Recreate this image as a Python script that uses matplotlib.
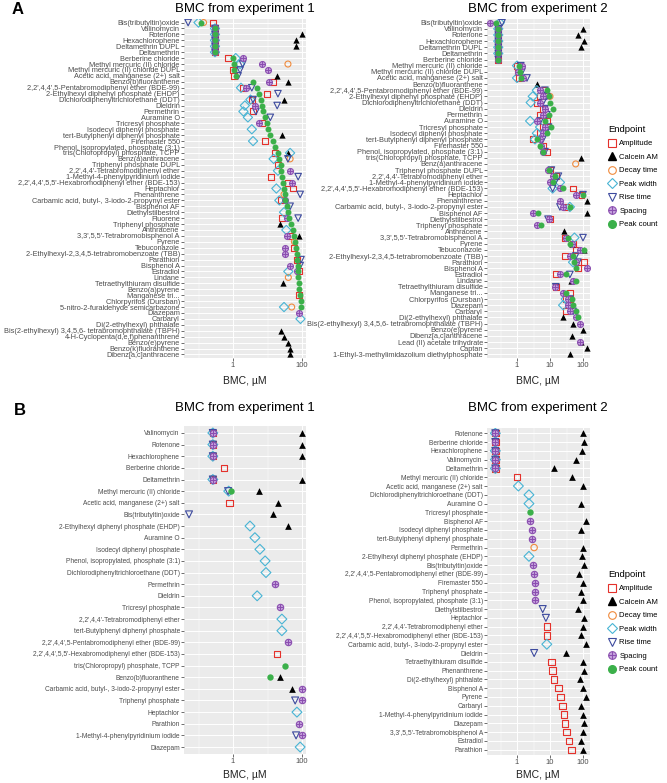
import numpy as np
import matplotlib
matplotlib.use('Agg')
import matplotlib.pyplot as plt
from matplotlib.lines import Line2D
from matplotlib.ticker import NullFormatter

nan = np.nan
plt.rcParams['font.family'] = ['Liberation Sans', 'DejaVu Sans']

# ---------------- Panel A, experiment 1 ----------------
a1_chem = ["Bis(tributyltin)oxide", "Valinomycin", "Rotenone", "Hexachlorophene", "Deltamethrin DUPL",
           "Deltamethrin", "Berberine chloride", "Methyl mercuric (II) chloride",
           "Methyl mercuric (II) chloride DUPL", "Acetic acid, manganese (2+) salt",
           "Benzo(b)fluoranthene", "2,2',4,4',5-Pentabromodiphenyl ether (BDE-99)",
           "2-Ethylhexyl diphenyl phosphate (EHDP)", "Dichlorodiphenyltrichlorethane (DDT)", "Dieldrin",
           "Permethrin", "Auramine O", "Tricresyl phosphate", "Isodecyl diphenyl phosphate",
           "tert-Butylphenyl diphenyl phosphate", "Firemaster 550", "Phenol, isopropylated, phosphate (3:1)",
           "tris(Chloropropyl) phosphate, TCPP", "Benz(a)anthracene", "Triphenyl phosphate DUPL",
           "2,2',4,4'-Tetrabromodiphenyl ether", "1-Methyl-4-phenylpyridinium iodide",
           "2,2',4,4',5,5'-Hexabromodiphenyl ether (BDE-153)", "Heptachlor", "Phenanthrene",
           "Carbamic acid, butyl-, 3-iodo-2-propynyl ester", "Bisphenol AF", "Diethylstilbestrol",
           "Fluorene", "Triphenyl phosphate", "Anthracene", "3,3',5,5'-Tetrabromobisphenol A", "Pyrene",
           "Tebuconazole", "2-Ethylhexyl-2,3,4,5-tetrabromobenzoate (TBB)", "Parathion", "Bisphenol A",
           "Estradiol", "Lindane", "Tetraethylthiuram disulfide", "Benzo(a)pyrene", "Manganese tri...",
           "Chlorpyrifos (Dursban)", "5-nitro-2-furaldehyde semicarbazone", "Diazepam", "Carbaryl",
           "Di(2-ethylhexyl) phthalate", "Bis(2-ethylhexyl) 3,4,5,6- tetrabromophthalate (TBPH)",
           "4-H-Cyclopenta(d,e,f)phenanthrene", "Benzo(e)pyrene", "Benzo(k)fluoranthene",
           "Dibenz[a,c]anthracene"]
a1_amp = [0.27, 0.3, 0.3, 0.3, 0.3, 0.3, 0.7, nan, 1.0, 1.1,
          14, 1.9, 9.5, 3.5, nan, 3.8, nan, 7.0, nan, nan,
          8.5, nan, 16, nan, 20, nan, 12.6, 39, 55, nan,
          25, nan, nan, 26, nan, nan, 45, nan, 60, nan,
          70, nan, 80, nan, nan, nan, 80, nan, nan, nan,
          nan, nan, nan, nan, nan, nan, nan]
a1_cal = [nan, nan, 100, 65, 65, nan, nan, nan, nan, 19,
          39, nan, nan, 30, nan, nan, nan, nan, nan, 27,
          nan, nan, 39, nan, nan, nan, nan, nan, nan, nan,
          nan, nan, nan, nan, 23, nan, 80, nan, nan, nan,
          nan, nan, nan, nan, 28, nan, nan, nan, nan, nan,
          nan, nan, 25, 30, 40, 45, 45]
a1_dec = [0.14, nan, nan, nan, nan, nan, nan, 39, nan, nan,
          nan, nan, nan, nan, nan, nan, nan, nan, nan, nan,
          nan, nan, nan, 45, nan, nan, nan, nan, nan, 30,
          nan, nan, nan, nan, nan, nan, nan, 60, nan, nan,
          nan, nan, nan, 40, nan, nan, nan, nan, 50, nan,
          nan, nan, nan, nan, nan, nan, nan]
a1_wid = [0.1, 0.3, 0.3, 0.3, 0.3, 0.3, 1.2, 1.6, nan, nan,
          nan, 1.7, nan, 3.2, 2.2, 2.0, 2.7, nan, 3.5, nan,
          3.8, nan, 45, 15, nan, 20, nan, nan, 18, nan,
          22, nan, 30, nan, nan, 35, nan, nan, nan, nan,
          nan, nan, 40, nan, nan, nan, nan, nan, 30, nan,
          90, nan, nan, nan, nan, nan, nan]
a1_rise = [0.05, 0.3, 0.3, 0.3, 0.3, 0.3, nan, 1.9, 1.6, 1.4,
           nan, 3.5, 20, 3.8, 19, 4.6, 12, nan, nan, nan,
           nan, nan, nan, 39, nan, nan, 77, nan, nan, 88,
           nan, 45, nan, 77, nan, nan, nan, nan, nan, nan,
           93, 88, nan, nan, nan, nan, nan, nan, nan, nan,
           nan, nan, nan, nan, nan, nan, nan]
a1_spa = [nan, 0.3, 0.3, 0.3, 0.3, 0.3, 1.9, 6.9, 10.3, nan,
          11, 2.4, nan, nan, 4.4, nan, nan, 5.7, nan, nan,
          nan, nan, nan, nan, nan, 45, nan, 51, nan, nan,
          32, nan, nan, 37, nan, nan, 37, nan, 32, 32,
          nan, 45, 70, nan, nan, nan, nan, nan, nan, 80,
          nan, nan, nan, nan, nan, nan, nan]
a1_cnt = [0.12, 0.3, 0.3, 0.3, 0.3, 0.3, 1.0, 1.05, 1.1, 1.2,
          3.8, 5.0, 5.7, 6.5, 6.9, 7.4, 8.5, 9.7, 10.5, 12,
          14, 16, 20, 22, 24, 25, 27, 28, 29, 31,
          33, 36, 38, 43, 48, 53, 57, 62, 66, 70,
          72, 74, 76, 78, 80, 84, 88, 92, 95, nan,
          nan, nan, nan, nan, nan, nan, nan]

# ---------------- Panel A, experiment 2 ----------------
a2_chem = ["Bis(tributyltin)oxide", "Valinomycin", "Rotenone", "Hexachlorophene", "Deltamethrin DUPL",
           "Deltamethrin", "Berberine chloride", "Methyl mercuric (II) chloride",
           "Methyl mercuric (II) chloride DUPL", "Acetic acid, manganese (2+) salt",
           "Benzo(b)fluoranthene", "2,2',4,4',5-Pentabromodiphenyl ether (BDE-99)",
           "2-Ethylhexyl diphenyl phosphate (EHDP)", "Dichlorodiphenyltrichlorethane (DDT)", "Dieldrin",
           "Permethrin", "Auramine O", "Tricresyl phosphate", "Isodecyl diphenyl phosphate",
           "tert-Butylphenyl diphenyl phosphate", "Firemaster 550", "Phenol, isopropylated, phosphate (3:1)",
           "tris(Chloropropyl) phosphate, TCPP", "Benz(a)anthracene", "Triphenyl phosphate DUPL",
           "2,2',4,4'-Tetrabromodiphenyl ether", "1-Methyl-4-phenylpyridinium iodide",
           "2,2',4,4',5,5'-Hexabromodiphenyl ether (BDE-153)", "Heptachlor", "Phenanthrene",
           "Carbamic acid, butyl-, 3-iodo-2-propynyl ester", "Bisphenol AF", "Diethylstilbestrol",
           "Triphenyl phosphate", "Anthracene", "3,3',5,5'-Tetrabromobisphenol A", "Pyrene",
           "Tebuconazole", "2-Ethylhexyl-2,3,4,5-tetrabromobenzoate (TBB)", "Parathion", "Bisphenol A",
           "Estradiol", "Lindane", "Tetraethylthiuram disulfide", "Manganese tri...",
           "Chlorpyrifos (Dursban)", "Diazepam", "Carbaryl", "Di(2-ethylhexyl) phthalate",
           "Bis(2-ethylhexyl) 3,4,5,6- tetrabromophthalate (TBPH)", "Benzo(e)pyrene",
           "Dibenz[a,c]anthracene", "Lead (II) acetate trihydrate", "Captan",
           "1-Ethyl-3-methylimidazolium diethylphosphate"]
a2_amp = [nan, 0.27, 0.27, 0.27, 0.27, 0.27, 0.27, 1.0, 1.1, 1.15,
          nan, 6, 5, 4, 6, 5, 8, 6, 5, 3.1,
          6, 8, nan, nan, 10, 15, nan, 50, 90, nan,
          30, nan, 10, nan, nan, 28, 50, 60, 28, 110,
          70, 15, nan, 15, 40, 30, 40, 30, nan, nan,
          nan, nan, nan, nan, nan]
a2_cal = [nan, 100, 70, 110, 85, nan, nan, nan, nan, nan,
          4.0, nan, nan, nan, nan, nan, nan, nan, nan, nan,
          nan, nan, 90, nan, nan, nan, nan, nan, nan, 130,
          nan, 130, nan, nan, 26, nan, 48, 110, nan, nan,
          nan, nan, 42, nan, nan, nan, nan, nan, 25, 50,
          100, 45, 90, 130, 40]
a2_dec = [nan, nan, nan, nan, nan, nan, nan, nan, nan, nan,
          nan, nan, 10, nan, nan, nan, nan, nan, nan, nan,
          nan, nan, nan, 60, nan, nan, nan, nan, nan, nan,
          nan, nan, nan, nan, nan, nan, nan, nan, nan, nan,
          nan, nan, nan, nan, nan, nan, nan, nan, nan, nan,
          nan, nan, nan, nan, nan]
a2_wid = [0.3, 0.27, 0.27, 0.27, 0.27, 0.27, nan, 1.0, nan, 1.0,
          nan, 4, 3, 2.6, nan, nan, 2.5, 5, 4, 3.5,
          nan, nan, nan, nan, nan, nan, 20, 12, nan, nan,
          40, nan, nan, nan, nan, 55, nan, nan, nan, 50,
          nan, nan, nan, nan, nan, 30, 25, nan, nan, nan,
          nan, nan, nan, nan, nan]
a2_rise = [0.35, 0.27, 0.27, 0.27, 0.27, 0.27, 0.27, 1.3, 1.4, 2.0,
           nan, 7, 8, 6, 7, 8, 5, 9, 7, 6,
           nan, 7, nan, nan, 11, 18, 14, 12, 100, nan,
           20, nan, 8.7, nan, nan, 100, nan, nan, 60, 70,
           nan, 40, nan, 15, nan, 40, nan, 50, nan, nan,
           nan, nan, nan, nan, nan]
a2_spa = [0.15, 0.27, 0.27, 0.27, 0.27, 0.27, 0.27, 1.4, 1.07, 1.5,
          nan, 5, 6, 5, 7, 6, 4, 7, 6, 5,
          5.3, 6, nan, nan, 8.7, 12, 10, 20, 60, 20,
          25, 3.1, 9, 4, nan, 30, 45, 80, 40, 60,
          130, 20, 50, 14, 25, 35, 35, 40, 60, 80,
          nan, nan, 80, nan, nan]
a2_cnt = [0.23, 0.27, 0.27, 0.27, 0.27, 0.27, 0.27, 1.15, 1.2, 1.3,
          nan, 8, 9, 10, 12, 9, 7, 11, 8, 4,
          5, 6.1, nan, nan, 9, 14, 12, 25, 100, nan,
          40, 4.3, nan, 5.3, nan, 35, 40, 110, 50, 55,
          60, 30, 60, nan, 30, 45, 50, 60, 70, nan,
          nan, nan, nan, nan, nan]

# ---------------- Panel B, experiment 1 ----------------
b1_chem = ["Valinomycin", "Rotenone", "Hexachlorophene", "Berberine chloride", "Deltamethrin",
           "Methyl mercuric (II) chloride", "Acetic acid, manganese (2+) salt", "Bis(tributyltin)oxide",
           "2-Ethylhexyl diphenyl phosphate (EHDP)", "Auramine O", "Isodecyl diphenyl phosphate",
           "Phenol, isopropylated, phosphate (3:1)", "Dichlorodiphenyltrichloroethane (DDT)", "Permethrin",
           "Dieldrin", "Tricresyl phosphate", "2,2',4,4'-Tetrabromodiphenyl ether",
           "tert-Butylphenyl diphenyl phosphate", "2,2',4,4',5-Pentabromodiphenyl ether (BDE-99)",
           "2,2',4,4',5,5'-Hexabromodiphenyl ether (BDE-153)", "tris(Chloropropyl) phosphate, TCPP",
           "Benzo(b)fluoranthene", "Carbamic acid, butyl-, 3-iodo-2-propynyl ester", "Triphenyl phosphate",
           "Heptachlor", "Parathion", "1-Methyl-4-phenylpyridinium iodide", "Diazepam"]
b1_amp = [0.26, 0.26, 0.26, 0.55, 0.26, nan, 0.8, nan, nan, nan,
          nan, nan, nan, nan, nan, nan, nan, nan, nan, 19,
          nan, nan, nan, nan, nan, nan, nan, nan]
b1_cal = [100, 100, 100, nan, 100, 5.5, 20, 14, 40, nan,
          nan, nan, nan, nan, nan, nan, nan, nan, nan, nan,
          nan, 23, 50, nan, nan, nan, nan, nan]
b1_dec = [nan] * 28
b1_wid = [0.26, 0.26, 0.26, nan, 0.26, 0.75, nan, nan, 3.1, 4.3,
          6, 8.5, 9, nan, 5, nan, 26, 26, nan, nan,
          nan, nan, nan, nan, 71, nan, nan, 88]
b1_rise = [0.26, 0.26, 0.26, nan, 0.26, 0.72, nan, 0.053, nan, nan,
           nan, nan, nan, nan, nan, nan, nan, nan, nan, nan,
           nan, nan, nan, 63, nan, nan, 67, nan]
b1_spa = [0.26, 0.26, 0.26, nan, 0.26, nan, nan, nan, nan, nan,
          nan, nan, nan, 16, nan, 23, nan, nan, 39, nan,
          nan, nan, 100, 100, nan, 80, 100, nan]
b1_cnt = [nan, nan, nan, nan, nan, 0.9, nan, nan, nan, nan,
          nan, nan, nan, nan, nan, nan, nan, nan, nan, nan,
          32, 12, nan, nan, nan, nan, nan, nan]

# ---------------- Panel B, experiment 2 ----------------
b2_chem = ["Rotenone", "Berberine chloride", "Hexachlorophene", "Valinomycin", "Deltamethrin",
           "Methyl mercuric (II) chloride", "Acetic acid, manganese (2+) salt",
           "Dichlorodiphenyltrichloroethane (DDT)", "Auramine O", "Tricresyl phosphate", "Bisphenol AF",
           "Isodecyl diphenyl phosphate", "tert-Butylphenyl diphenyl phosphate", "Permethrin",
           "2-Ethylhexyl diphenyl phosphate (EHDP)", "Bis(tributyltin)oxide",
           "2,2',4,4',5-Pentabromodiphenyl ether (BDE-99)", "Firemaster 550", "Triphenyl phosphate",
           "Phenol, isopropylated, phosphate (3:1)", "Diethylstilbestrol", "Heptachlor",
           "2,2',4,4'-Tetrabromodiphenyl ether", "2,2',4,4',5,5'-Hexabromodiphenyl ether (BDE-153)",
           "Carbamic acid, butyl-, 3-iodo-2-propynyl ester", "Dieldrin", "Tetraethylthiuram disulfide",
           "Phenanthrene", "Di(2-ethylhexyl) phthalate", "Bisphenol A", "Pyrene", "Carbaryl",
           "1-Methyl-4-phenylpyridinium iodide", "Diazepam", "3,3',5,5'-Tetrabromobisphenol A",
           "Estradiol", "Parathion"]
b2_amp = [0.22, 0.22, 0.22, 0.22, 0.22, 1.0, nan, nan, nan, nan,
          nan, nan, nan, nan, nan, nan, nan, nan, nan, nan,
          nan, nan, 8, 8, nan, nan, 11, 12, 13, 18,
          21, 24, 27, 28, 32, 37, 45]
b2_cal = [100, 110, 95, 60, 13, 45, 100, nan, 90, nan,
          120, 85, nan, 100, 95, 110, 75, 100, 90, 100,
          70, 110, 100, 90, 120, 30, 100, 110, 80, 100,
          120, 90, 100, 110, 100, 90, 100]
b2_dec = [nan, nan, nan, nan, nan, nan, nan, nan, nan, nan,
          nan, nan, nan, 3.3, nan, nan, nan, nan, nan, nan,
          nan, nan, nan, nan, nan, nan, nan, nan, nan, nan,
          nan, nan, nan, nan, nan, nan, nan]
b2_wid = [0.22, nan, 0.22, 0.22, 0.22, nan, 1.1, 2.3, 2.3, nan,
          nan, nan, nan, nan, 2.3, nan, nan, nan, nan, nan,
          nan, nan, nan, nan, 8, nan, nan, nan, nan, nan,
          nan, nan, nan, nan, nan, nan, nan]
b2_rise = [0.22, 0.22, 0.22, 0.22, 0.22, nan, nan, nan, nan, nan,
           nan, nan, nan, nan, nan, nan, nan, nan, nan, nan,
           6, 7.5, nan, nan, nan, 3.3, nan, nan, nan, nan,
           nan, nan, nan, nan, nan, nan, nan]
b2_spa = [0.22, 0.22, 0.22, 0.22, 0.22, nan, nan, nan, nan, nan,
          2.5, 2.8, 2.8, nan, nan, 3.0, 3.3, 3.5, 3.5, 3.5,
          nan, nan, nan, nan, nan, nan, nan, nan, nan, nan,
          nan, nan, nan, nan, nan, nan, nan]
b2_cnt = [nan, nan, nan, nan, nan, nan, nan, nan, nan, 2.5,
          nan, nan, nan, nan, nan, nan, nan, nan, nan, nan,
          nan, nan, nan, nan, nan, nan, nan, nan, nan, nan,
          nan, nan, nan, nan, nan, nan, nan]

endpoints = ['Amplitude', 'Calcein AM', 'Decay time', 'Peak width', 'Rise time', 'Spacing', 'Peak count']
c_amp, c_dec, c_wid, c_rise, c_spa, c_cnt = '#E4312B', '#F08A3C', '#48B4D4', '#3D4A9E', '#8B4FB0', '#3BB04A'

W, H = 667, 783
fig = plt.figure(figsize=(W / 100, H / 100), dpi=100)


def box(x0, y0, x1, y1):
    return [x0 / W, 1 - y1 / H, (x1 - x0) / W, (y1 - y0) / H]


def panel(rect, chem, amp, cal, dec, wid, rise, spa, cnt, xlim, majors, minors, lsize, ms):
    ax = fig.add_axes(rect)
    ax.set_facecolor('#EBEBEB')
    ax.set_xscale('log')
    y = np.arange(len(chem))
    s = ms ** 2
    lw = 0.8
    ax.scatter(np.array(amp, float), y, s=s, marker='s', facecolors='none', edgecolors=c_amp, linewidths=lw, zorder=3)
    ax.scatter(np.array(cal, float), y, s=s * 1.1, marker='^', color='black', linewidths=0, zorder=3)
    ax.scatter(np.array(dec, float), y, s=s, marker='o', facecolors='none', edgecolors=c_dec, linewidths=lw, zorder=3)
    ax.scatter(np.array(wid, float), y, s=s * 1.2, marker='D', facecolors='none', edgecolors=c_wid, linewidths=lw, zorder=3)
    ax.scatter(np.array(rise, float), y, s=s * 1.2, marker='v', facecolors='none', edgecolors=c_rise, linewidths=lw, zorder=3)
    ax.scatter(np.array(spa, float), y, s=s, marker='o', facecolors='#C9A8E0', edgecolors=c_spa, linewidths=lw, zorder=3)
    ax.scatter(np.array(spa, float), y, s=s, marker='+', color=c_spa, linewidths=lw, zorder=3)
    ax.scatter(np.array(cnt, float), y, s=s, marker='o', color=c_cnt, linewidths=0, zorder=4)
    ax.set_xlim(*xlim)
    ax.set_ylim(len(chem) - 0.4, -0.6)
    ax.set_yticks(y)
    ax.set_yticklabels(chem, fontsize=lsize, color='#4D4D4D')
    ax.set_xticks(majors)
    ax.set_xticklabels([('%g' % m) for m in majors], fontsize=5.5, color='#4D4D4D')
    ax.set_xticks(minors, minor=True)
    ax.xaxis.set_minor_formatter(NullFormatter())
    ax.tick_params(axis='both', which='major', length=2, width=0.5, color='#333333', pad=1)
    ax.tick_params(axis='x', which='minor', length=0)
    ax.grid(axis='y', which='major', color='white', lw=0.7)
    ax.grid(axis='x', which='major', color='white', lw=0.7)
    ax.grid(axis='x', which='minor', color='white', lw=0.35)
    ax.set_axisbelow(True)
    for sp in ax.spines.values():
        sp.set_visible(False)
    return ax


def legend(y_top):
    hs = [Line2D([], [], ls='', marker='s', mfc='none', mec=c_amp, ms=5.5, mew=0.8),
          Line2D([], [], ls='', marker='^', color='black', ms=5.5),
          Line2D([], [], ls='', marker='o', mfc='none', mec=c_dec, ms=5.5, mew=0.8),
          Line2D([], [], ls='', marker='D', mfc='none', mec=c_wid, ms=5, mew=0.8),
          Line2D([], [], ls='', marker='v', mfc='none', mec=c_rise, ms=6, mew=0.8),
          (Line2D([], [], ls='', marker='o', mfc='#C9A8E0', mec=c_spa, ms=5.5, mew=0.8),
           Line2D([], [], ls='', marker='+', color=c_spa, ms=5.5, mew=0.8)),
          Line2D([], [], ls='', marker='o', color=c_cnt, ms=5.5)]
    lg = fig.legend(hs, endpoints, loc='upper left', bbox_to_anchor=(608 / W, 1 - y_top / H),
                    frameon=False, fontsize=5.5, title='Endpoint', title_fontsize=6.8,
                    alignment='left', labelspacing=0.8, handlelength=1.0, handletextpad=0.5,
                    borderpad=0, borderaxespad=0)
    return lg


lim_l = (0.038, 130)
lim_r = (0.123, 163)
panel(box(184, 19, 306, 358), a1_chem, a1_amp, a1_cal, a1_dec, a1_wid, a1_rise, a1_spa, a1_cnt,
      lim_l, [1, 100], [0.1, 10], 5.3, 4.3)
panel(box(487, 19, 590, 358), a2_chem, a2_amp, a2_cal, a2_dec, a2_wid, a2_rise, a2_spa, a2_cnt,
      lim_r, [1, 10, 100], [10 ** -0.5, 10 ** 0.5, 10 ** 1.5], 5.3, 4.3)
panel(box(184, 426, 306, 754), b1_chem, b1_amp, b1_cal, b1_dec, b1_wid, b1_rise, b1_spa, b1_cnt,
      lim_l, [1, 100], [0.1, 10], 4.8, 4.6)
panel(box(487, 428, 590, 755), b2_chem, b2_amp, b2_cal, b2_dec, b2_wid, b2_rise, b2_spa, b2_cnt,
      lim_r, [1, 10, 100], [10 ** -0.5, 10 ** 0.5, 10 ** 1.5], 4.8, 4.6)

for xc, yc in [(245, 9), (538, 9), (245, 408), (538, 408)]:
    fig.text(xc / W, 1 - yc / H, 'BMC from experiment ' + ('1' if xc < 400 else '2'),
             ha='center', va='center', fontsize=9.5)
for xc, yc in [(245, 381), (538, 381), (245, 775), (538, 775)]:
    fig.text(xc / W, 1 - yc / H, 'BMC, \u00b5M', ha='center', va='center', fontsize=7.5, color='#222222')
fig.text(12 / W, 1 - 10 / H, 'A', fontsize=12, fontweight='bold', va='center')
fig.text(14 / W, 1 - 410 / H, 'B', fontsize=12, fontweight='bold', va='center')

legend(125)
legend(570)

fig.savefig('out.png', dpi=100)
